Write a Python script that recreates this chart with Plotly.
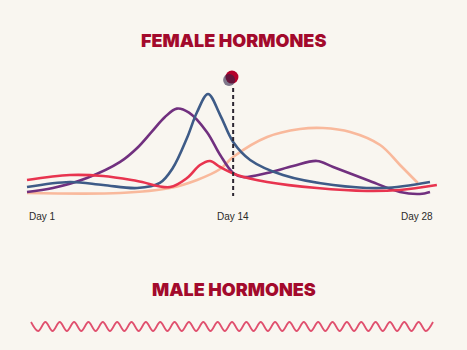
import plotly.graph_objects as go

# cycle position (0 = Day 1, 1 = Day 28) and relative hormone level (0-100)
blue_t = [0, .106, .188, .272, .328, .360, .395, .420, .447, .477, .509, .551, .632, .756, .879, .995]
blue_v = [7.9, 12.9, 9.9, 6.9, 11.9, 26.7, 56.4, 82.2, 100, 79.2, 52.5, 34.7, 19.8, 9.9, 6.9, 12.9]

purple_t = [0, .064, .148, .230, .272, .311, .340, .370, .400, .444, .477, .509, .533, .593, .657, .716, .756, .840, .921, .970, .995]
purple_v = [3.0, 6.9, 16.8, 32.7, 46.5, 64.0, 77.0, 85.5, 81.5, 62.4, 39.6, 21.8, 17.8, 21.8, 28.7, 33.7, 27.7, 14.9, 3.0, 1.0, 3.0]

red_t = [0, .106, .188, .272, .353, .395, .427, .452, .477, .519, .593, .716, .840, .921, 1.012]
red_v = [14.9, 19.8, 18.8, 13.9, 7.9, 16.8, 29.7, 33.7, 27.7, 19.8, 12.9, 6.9, 4.0, 5.0, 9.9]

peach_t = [0, .230, .353, .420, .477, .509, .593, .674, .731, .798, .872, .921, .965]
peach_v = [2.0, 2.0, 6.9, 14.9, 25.7, 37.6, 57.4, 65.3, 66.3, 62.4, 49.5, 29.7, 11.9]

ovulation_t = 0.509
ovulation_line_v = [105.9, -1.0]
ovulation_dot = (0.506, 116.8)
ovulation_shadow = (0.499, 113.9)

tick_t = [0, 0.509, 1.007]
tick_text = ["Day 1", "Day 14", "Day 28"]

male_t = [0.0099 + i * (0.9926 / 56) for i in range(57)]
male_v = [1, 0, 1, 0, 1, 0, 1, 0, 1, 0, 1, 0, 1, 0, 1, 0, 1, 0, 1, 0,
          1, 0, 1, 0, 1, 0, 1, 0, 1, 0, 1, 0, 1, 0, 1, 0, 1, 0, 1, 0,
          1, 0, 1, 0, 1, 0, 1, 0, 1, 0, 1, 0, 1, 0, 1, 0, 1]

BG = "#f9f6f0"
TITLE = "#a30a2c"

fig = go.Figure()

def curve(t, v, color):
    fig.add_trace(go.Scatter(x=t, y=v, mode="lines",
                             line=dict(color=color, width=2.6, shape="spline", smoothing=1.0),
                             hoverinfo="skip", showlegend=False))

curve(peach_t, peach_v, "#f9b99c")
curve(purple_t, purple_v, "#71307f")
curve(blue_t, blue_v, "#3e5b87")
curve(red_t, red_v, "#e8344f")

fig.add_trace(go.Scatter(x=[ovulation_t, ovulation_t], y=ovulation_line_v, mode="lines",
                         line=dict(color="#2b2530", width=2, dash="4px,3px"),
                         hoverinfo="skip", showlegend=False))
fig.add_trace(go.Scatter(x=[ovulation_dot[0]], y=[ovulation_dot[1]], mode="markers",
                         marker=dict(size=13, color="#b3002b", line=dict(width=0)),
                         hoverinfo="skip", showlegend=False))
fig.add_trace(go.Scatter(x=[ovulation_shadow[0]], y=[ovulation_shadow[1]], mode="markers",
                         marker=dict(size=12, color="rgba(45,35,70,0.6)", line=dict(width=0)),
                         hoverinfo="skip", showlegend=False))

fig.add_trace(go.Scatter(x=male_t, y=male_v, mode="lines", xaxis="x", yaxis="y2",
                         line=dict(color="#e0506e", width=1.8, shape="spline", smoothing=1.0),
                         hoverinfo="skip", showlegend=False))

for t, txt, anc in zip(tick_t, tick_text, ["left", "center", "right"]):
    fig.add_annotation(x=t, y=1 - 216 / 350, xref="x", yref="paper", text=txt,
                       showarrow=False, xanchor=anc, yanchor="middle",
                       font=dict(family="Liberation Sans, Arial", size=10, color="#2a2a2a"))

for txt, py in [("FEMALE HORMONES", 40), ("MALE HORMONES", 289)]:
    fig.add_annotation(x=0.5, y=1 - py / 350, xref="paper", yref="paper", text=txt,
                       showarrow=False, xanchor="center", yanchor="middle",
                       font=dict(family="Inter", size=18, color=TITLE, weight=900))

fig.update_layout(
    width=467, height=350, margin=dict(l=0, r=0, t=0, b=0),
    paper_bgcolor=BG, plot_bgcolor=BG,
    xaxis=dict(range=[-27 / 405, 440 / 405], visible=False, fixedrange=True),
    yaxis=dict(range=[-153.5, 193.1], visible=False, domain=[0, 1]),
    yaxis2=dict(range=[-2.11, 36.78], visible=False, overlaying="y"),
)

fig.write_html("out.html")
